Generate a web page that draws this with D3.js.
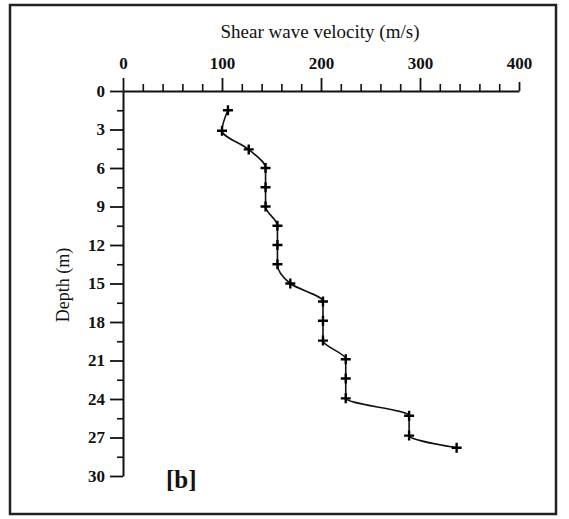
<!DOCTYPE html>
<html>
<head>
<meta charset="utf-8">
<script src="https://cdn.jsdelivr.net/npm/d3@7"></script>
<style>
  body { margin: 0; background: #fff; }
  svg { display: block; font-family: "Liberation Serif", "Times New Roman", serif; }
  .tick text { font-family: "Liberation Serif", "Times New Roman", serif; font-weight: bold; font-size: 17px; fill: #111; }
</style>
</head>
<body>
<svg class="chart"></svg>
<script>
const width = 569,
  height = 519;

// shear wave velocity (m/s) measured at each depth (m)
const depths = [1.5, 3.1, 4.55, 6, 7.5, 9, 10.5, 12, 13.5, 15, 16.4, 17.9, 19.45, 20.9, 22.4, 23.95, 25.3, 26.85, 27.8];
const velocities = [106, 100, 127, 144, 144, 144, 156, 156, 156, 169, 202, 202, 202, 225, 225, 225, 289, 289, 337];
const xTicks = [0, 100, 200, 300, 400];
const yTicks = [0, 3, 6, 9, 12, 15, 18, 21, 24, 27, 30];

let x = d3.scaleLinear().domain([0, 400]).range([123, 519]);
let y = d3.scaleLinear().domain([0, 30]).range([91, 476]);

let chart = d3.select(".chart")
  .attr("width", width)
  .attr("height", height);

chart.append("rect")
  .attr("x", 10).attr("y", 5)
  .attr("width", 546).attr("height", 509)
  .attr("fill", "none")
  .attr("stroke", "#222")
  .attr("stroke-width", 2.5);

// top axis, minor ticks every 20
let xMinor = d3.range(20, 400, 20).filter(v => v % 100);
chart.append("g")
  .attr("transform", `translate(0,${y(0)})`)
  .call(d3.axisTop(x).tickValues(xMinor).tickSize(7).tickFormat(""))
  .call(g => g.select(".domain").remove())
  .selectAll("line").attr("stroke", "#111").attr("stroke-width", 1.6);

let xAxis = chart.append("g")
  .attr("transform", `translate(0,${y(0)})`)
  .call(d3.axisTop(x).tickValues(xTicks).tickSize(13).tickSizeOuter(0).tickPadding(9));
xAxis.select(".domain").attr("stroke", "#111").attr("stroke-width", 2);
xAxis.selectAll("line").attr("stroke", "#111").attr("stroke-width", 1.8);
xAxis.selectAll(".tick").filter(d => d === 400).select("line").attr("y2", -9);

// left axis, minor ticks every 1.5 m
let yMinor = yTicks.slice(0, -1).map(d => d + 1.5);
chart.append("g")
  .attr("transform", `translate(${x(0)},0)`)
  .call(d3.axisLeft(y).tickValues(yMinor).tickSize(6).tickFormat(""))
  .call(g => g.select(".domain").remove())
  .selectAll("line").attr("stroke", "#111").attr("stroke-width", 1.6);

let yAxis = chart.append("g")
  .attr("transform", `translate(${x(0)},0)`)
  .call(d3.axisLeft(y).tickValues(yTicks).tickSize(13).tickSizeOuter(0).tickPadding(5));
yAxis.select(".domain").attr("stroke", "#111").attr("stroke-width", 2);
yAxis.selectAll("line").attr("stroke", "#111").attr("stroke-width", 1.8);

chart.append("text")
  .attr("x", 320).attr("y", 38)
  .attr("text-anchor", "middle")
  .attr("font-size", 19)
  .attr("fill", "#111")
  .text("Shear wave velocity (m/s)");

chart.append("text")
  .attr("transform", "translate(69,285) rotate(-90)")
  .attr("text-anchor", "middle")
  .attr("font-size", 18)
  .attr("fill", "#111")
  .text("Depth (m)");

chart.append("text")
  .attr("x", 166).attr("y", 488)
  .attr("font-size", 25)
  .attr("font-weight", "bold")
  .attr("fill", "#111")
  .text("[b]");

let points = depths.map((d, i) => ({ depth: d, vs: velocities[i] }));

let line = d3.line()
  .x(d => x(d.vs))
  .y(d => y(d.depth))
  .curve(d3.curveMonotoneY);

chart.append("path")
  .datum(points)
  .attr("d", line)
  .attr("fill", "none")
  .attr("stroke", "#111")
  .attr("stroke-width", 1.6);

chart.append("g").selectAll("path")
  .data(points)
  .enter().append("path")
  .attr("d", "M-5,0H5M0,-5V5")
  .attr("transform", d => `translate(${x(d.vs)},${y(d.depth)})`)
  .attr("stroke", "#000")
  .attr("stroke-width", 2.4);
</script>
</body>
</html>
